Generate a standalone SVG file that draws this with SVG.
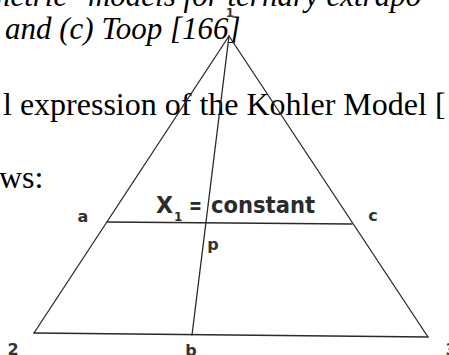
<svg xmlns="http://www.w3.org/2000/svg" width="449" height="355" viewBox="0 0 449 355">
<style>
.body{font-family:"Liberation Serif","Times New Roman",serif;font-size:32px;fill:#000}
.it{font-style:italic;font-size:31px}
.lbl{font-family:"DejaVu Sans","Liberation Sans",Arial,sans-serif;font-weight:bold;font-size:16px;fill:#333}
.big{font-family:"DejaVu Sans","Liberation Sans",Arial,sans-serif;font-weight:bold;font-size:23px;fill:#2b2b2b}
.ln{stroke:#2a2a2a;stroke-width:1.3;fill:none;stroke-linecap:round}
</style>
<rect width="449" height="355" fill="#fff"/>
<g id="page-text">
<text class="body it" x="-12" y="6">metric" models for ternary extrapo</text>
<text class="body it" x="5" y="39">and (c) Toop [166]</text>
<text class="body" x="3" y="115">l expression of the Kohler Model [</text>
<text class="body" x="-1" y="188">ws:</text>
</g>
<g id="connectors">
<line class="ln" x1="229" y1="36" x2="34" y2="333"/>
<line class="ln" x1="229" y1="36" x2="428" y2="337"/>
<line class="ln" x1="34" y1="333" x2="428" y2="337"/>
<line class="ln" x1="229" y1="36" x2="192" y2="335"/>
<line class="ln" x1="107" y1="222" x2="352" y2="224"/>
</g>
<g id="node-1"><text class="lbl" x="230" y="17" text-anchor="middle" style="font-size:12px">1</text></g>
<g id="node-2"><text class="lbl" x="13" y="355" text-anchor="middle">2</text></g>
<g id="node-3"><text class="lbl" x="451" y="355" text-anchor="middle">3</text></g>
<g id="node-a"><text class="lbl" x="83" y="222" text-anchor="middle">a</text></g>
<g id="node-b"><text class="lbl" x="191" y="356" text-anchor="middle">b</text></g>
<g id="node-c"><text class="lbl" x="373" y="221" text-anchor="middle">c</text></g>
<g id="node-p"><text class="lbl" x="213" y="250" text-anchor="middle">p</text></g>
<g id="label-x1">
<text class="big" x="156" y="213" textLength="17" lengthAdjust="spacingAndGlyphs">X</text>
<text class="big" x="174" y="221" style="font-size:12px">1</text>
<text class="big" x="189" y="213" textLength="13" lengthAdjust="spacingAndGlyphs">=</text>
<text class="big" x="211" y="213" textLength="104" lengthAdjust="spacingAndGlyphs">constant</text>
</g>
</svg>
